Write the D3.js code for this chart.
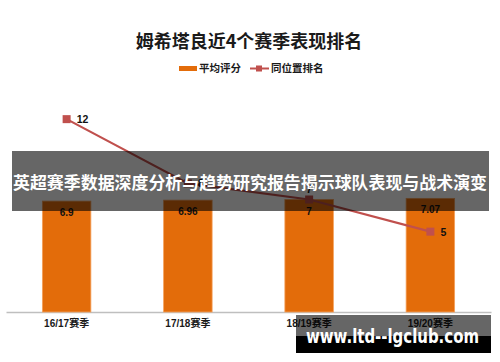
<!DOCTYPE html>
<html><head><meta charset="utf-8">
<script src="https://cdn.jsdelivr.net/npm/d3@7/dist/d3.min.js"></script>
<style>
html,body{margin:0;padding:0;background:#fff;}
svg{display:block;font-family:"Liberation Sans","Noto Sans CJK SC",sans-serif;}
</style></head>
<body><svg id="c" width="500" height="362"></svg>
<script>
const title = "姆希塔良近4个赛季表现排名";
const categories = ["16/17赛季", "17/18赛季", "18/19赛季", "19/20赛季"];
const ratingValues = [6.9, 6.96, 7, 7.07];
const rankValues = [12, 8, 7, 5];
const rankLabelPos = ["right", "right", "top", "right"];
const seriesNames = ["平均评分", "同位置排名"];
const bannerText = "英超赛季数据深度分析与趋势研究报告揭示球队表现与战术演变";
const watermarkText = "www.ltd--lgclub.com";

const svg = d3.select("#c");
const orange = "#E36C0A", red = "#C0504D";

const x = d3.scaleBand().domain(categories).range([6, 491]).paddingInner(0.6).paddingOuter(0.3);
const y = d3.scaleLinear().domain([0, 14]).range([312, 87]);

// title
svg.append("text").attr("x", 249).attr("y", 48).attr("text-anchor", "middle")
  .attr("font-size", 18).attr("font-weight", "bold").attr("fill", "#1a1a1a")
  .attr("font-family", "'Noto Sans CJK SC',sans-serif").text(title);

// legend
const lg = svg.append("g").attr("font-size", 10.5).attr("font-weight", "bold").attr("fill", "#1a1a1a")
  .attr("font-family", "'Noto Sans CJK SC',sans-serif");
lg.append("rect").attr("x", 179).attr("y", 66).attr("width", 18).attr("height", 5).attr("fill", orange);
lg.append("text").attr("x", 199).attr("y", 72).text(seriesNames[0]);
lg.append("line").attr("x1", 250).attr("x2", 269).attr("y1", 68.5).attr("y2", 68.5).attr("stroke", red).attr("stroke-width", 2);
lg.append("rect").attr("x", 256).attr("y", 65.5).attr("width", 6).attr("height", 6).attr("fill", red);
lg.append("text").attr("x", 271).attr("y", 72).text(seriesNames[1]);

// axis
const axis = svg.append("g").attr("transform", "translate(0,312)")
  .call(d3.axisBottom(x).tickSize(0).tickPadding(8));
axis.select(".domain").attr("stroke", "#bfbfbf").attr("stroke-width", 1.5);
axis.selectAll(".tick text").attr("font-size", 10).attr("font-weight", "bold").attr("fill", "#1a1a1a")
  .attr("font-family", "'Liberation Sans','Noto Sans CJK SC',sans-serif");

// bars
svg.append("g").selectAll("rect").data(ratingValues).join("rect")
  .attr("x", (d, i) => x(categories[i])).attr("width", x.bandwidth())
  .attr("y", d => y(d)).attr("height", d => y(0) - y(d))
  .attr("fill", orange).attr("stroke", "#F5A25D").attr("stroke-width", 0.8);
svg.append("g").selectAll("text").data(ratingValues).join("text")
  .attr("x", (d, i) => x(categories[i]) + x.bandwidth() / 2).attr("y", d => y(d) + 15)
  .attr("text-anchor", "middle").attr("font-size", 10).attr("font-weight", "bold").attr("fill", "#111")
  .text(d => d);

// line
const cx = i => x(categories[i]) + x.bandwidth() / 2;
svg.append("path").datum(rankValues)
  .attr("d", d3.line().x((d, i) => cx(i)).y(d => y(d)))
  .attr("fill", "none").attr("stroke", red).attr("stroke-width", 2.2);
svg.append("g").selectAll("rect").data(rankValues).join("rect")
  .attr("x", (d, i) => cx(i) - 4).attr("y", d => y(d) - 4).attr("width", 8).attr("height", 8).attr("fill", red);
svg.append("g").selectAll("text").data(rankValues).join("text")
  .attr("x", (d, i) => rankLabelPos[i] === "top" ? cx(i) : cx(i) + 10)
  .attr("y", (d, i) => rankLabelPos[i] === "top" ? y(d) - 7 : y(d) + 4)
  .attr("text-anchor", (d, i) => rankLabelPos[i] === "top" ? "middle" : "start")
  .attr("font-size", 10.5).attr("font-weight", "bold").attr("fill", "#111")
  .text(d => d);

// banner overlay
svg.append("rect").attr("x", 12).attr("y", 151).attr("width", 477).attr("height", 60).attr("fill", "rgba(0,0,0,0.6)");
svg.append("text").attr("x", 250).attr("y", 189).attr("text-anchor", "middle")
  .attr("font-size", 17).attr("font-weight", "bold").attr("fill", "#fff")
  .attr("font-family", "'Noto Sans CJK SC',sans-serif")
  .attr("textLength", 474).attr("lengthAdjust", "spacingAndGlyphs").text(bannerText);

// watermark
svg.append("rect").attr("x", 296).attr("y", 315).attr("width", 195).attr("height", 21).attr("fill", "rgba(0,0,0,0.6)");
svg.append("rect").attr("x", 296).attr("y", 336).attr("width", 195).attr("height", 17).attr("fill", "#000");
svg.append("text").attr("x", 306).attr("y", 343).attr("font-size", 20).attr("font-weight", "bold").attr("fill", "#fff")
  .attr("font-family", "'DejaVu Sans','Liberation Sans',sans-serif")
  .attr("textLength", 173).attr("lengthAdjust", "spacingAndGlyphs").text(watermarkText);
</script></body></html>
